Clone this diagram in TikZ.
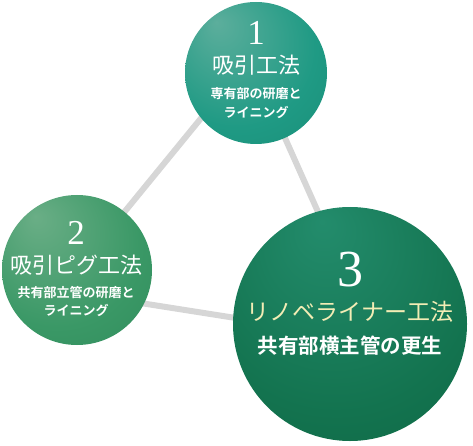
\documentclass[tikz,border=0pt]{standalone}
\usepackage{fontspec}
\setmainfont{Liberation Serif}
\newfontfamily\jpfont[BoldFont={* Bold}]{Noto Sans CJK JP}
\usetikzlibrary{backgrounds}

\definecolor{linkgray}{HTML}{D6D6D6}
\definecolor{tealA}{HTML}{5CAE9C}
\definecolor{tealB}{HTML}{1F9A84}
\definecolor{tealC}{HTML}{15866F}
\definecolor{greenA}{HTML}{6AAE86}
\definecolor{greenB}{HTML}{3A9866}
\definecolor{greenC}{HTML}{2A8454}
\definecolor{darkA}{HTML}{238C6C}
\definecolor{darkB}{HTML}{13734F}
\definecolor{darkC}{HTML}{0A5C3B}
\definecolor{titleyellow}{HTML}{F3EDB5}

\pgfdeclareradialshading{ballone}{\pgfpoint{-14bp}{18bp}}{color(0bp)=(tealA); color(28bp)=(tealB); color(55bp)=(tealC)}
\pgfdeclareradialshading{balltwo}{\pgfpoint{-14bp}{18bp}}{color(0bp)=(greenA); color(28bp)=(greenB); color(55bp)=(greenC)}
\pgfdeclareradialshading{ballthree}{\pgfpoint{-6bp}{22bp}}{color(0bp)=(darkA); color(30bp)=(darkB); color(60bp)=(darkC)}

\tikzset{
  ball/.style={circle,inner sep=0pt},
  link/.style={draw=linkgray,line width=6pt},
  num/.style={text=white,inner sep=0pt},
  title/.style={text=white,inner sep=0pt,font=\jpfont\fontsize{22}{22}\selectfont},
  sub/.style={text=white,inner sep=0pt,font=\jpfont\bfseries\fontsize{13}{13}\selectfont}
}

\begin{document}
\begin{tikzpicture}[x=1pt,y=-1pt]
\useasboundingbox (0,0) rectangle (473,446);
% circles
\node[ball,shading=ballone,minimum size=142pt] (c1) at (256,73) {};
\node[ball,shading=balltwo,minimum size=150pt] (c2) at (77,270) {};
\node[ball,shading=ballthree,minimum size=234pt] (c3) at (350,324) {};
% connectors behind
\begin{scope}[on background layer]
\draw[link] ([yshift=22pt]c1.center) -- (c2.center);
\draw[link] (c1.center) -- ([xshift=18pt]c3.center);
\draw[link] ([yshift=-23pt]c2.center) -- ([yshift=-12pt]c3.center);
\end{scope}
% texts
\node[num,font=\fontsize{35}{35}\selectfont] (n1) at (256,33) {1};
\node[title] (t1) at (256,65) {吸引工法};
\node[sub] (s1a) at (256,94) {専有部の研磨と};
\node[sub] (s1b) at (256,112) {ライニング};

\node[num,font=\fontsize{35}{35}\selectfont] (n2) at (76,233) {2};
\node[title] (t2) at (76,265) {吸引ピグ工法};
\node[sub] (s2a) at (76,293) {共有部立管の研磨と};
\node[sub] (s2b) at (76,310) {ライニング};

\node[num,font=\fontsize{52}{52}\selectfont] (n3) at (350,270) {3};
\node[title,text=titleyellow,font=\jpfont\fontsize{23}{23}\selectfont] (t3) at (350,312) {リノベライナー工法};
\node[sub,font=\jpfont\bfseries\fontsize{20.5}{20.5}\selectfont] (s3) at (350,346) {共有部横主管の更生};
\end{tikzpicture}
\end{document}
